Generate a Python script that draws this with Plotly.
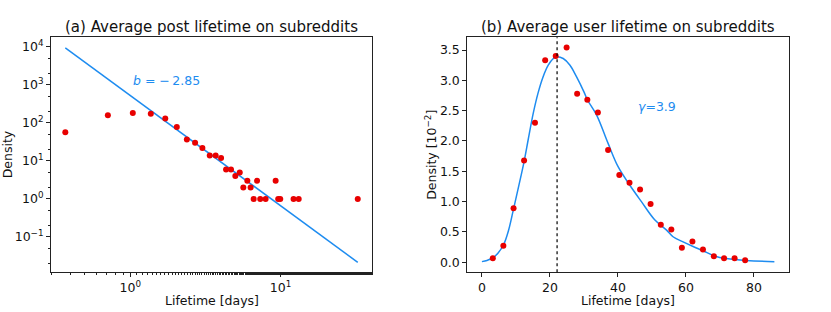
import plotly.graph_objects as go

# ---- Panel (a): average post lifetime (log-log) ----
post_lifetime = [0.37, 0.71, 1.04, 1.37, 1.71, 2.04, 2.38, 2.70, 3.02, 3.38, 3.70, 4.02,
                 4.34, 4.68, 5.00, 5.35, 5.65, 6.01, 6.32, 6.62, 6.97, 7.32, 7.95, 9.27,
                 9.64, 9.95, 12.2, 13.2, 32.6]
post_density = [57, 160, 183, 175, 132, 78, 37, 30, 22, 14, 14, 12,
                6, 6, 4, 5, 2, 3, 2, 1, 3, 1, 1, 3,
                1, 1, 1, 1, 1]
post_fit_x = [0.37, 32.6]
post_fit_y = [9500, 0.0215]

# ---- Panel (b): average user lifetime ----
user_lifetime = [3.2, 6.3, 9.3, 12.4, 15.6, 18.6, 21.7, 24.9, 28.0, 31.0, 34.1, 37.1,
                 40.4, 43.4, 46.5, 49.6, 52.6, 55.7, 58.8, 61.9, 65.0, 68.2, 71.2, 74.3, 77.4]
user_density = [0.066, 0.27, 0.89, 1.68, 2.30, 3.33, 3.40, 3.54, 2.78, 2.68, 2.47, 1.85,
                 1.44, 1.31, 1.20, 0.96, 0.62, 0.54, 0.24, 0.34, 0.21, 0.10, 0.066, 0.066, 0.033]
user_fit_x = [0, 1.5, 3.2, 4.7, 6.3, 7.8, 9.3, 10.8, 12.4, 13.6, 15.1, 16.5, 18.0, 19.5,
              21.0, 22.1, 23.9, 25.9, 27.8, 30.0, 31.0, 33.7, 37.1, 40.0, 43.5, 46.9,
              50.8, 54.3, 56.2, 59.0, 62.1, 65.0, 68.4, 71.9, 77.8, 86.0]
user_fit_y = [0.01, 0.03, 0.07, 0.15, 0.28, 0.52, 0.88, 1.25, 1.66, 2.02, 2.46, 2.79, 3.06, 3.25,
              3.36, 3.39, 3.36, 3.25, 3.06, 2.81, 2.68, 2.43, 1.96, 1.58, 1.27, 1.00,
              0.70, 0.53, 0.42, 0.34, 0.26, 0.19, 0.104, 0.06, 0.027, 0.01]
user_mode = 22.1

left_yticks = [0.1, 1, 10, 100, 1000, 10000]
left_yticktext = ["10<sup>−1</sup>", "10<sup>0</sup>", "10<sup>1</sup>", "10<sup>2</sup>",
                  "10<sup>3</sup>", "10<sup>4</sup>"]
left_xticks = [1, 10]
left_xticktext = ["10<sup>0</sup>", "10<sup>1</sup>"]
right_xticks = [0, 20, 40, 60, 80]
right_yticks = [0.0, 0.5, 1.0, 1.5, 2.0, 2.5, 3.0, 3.5]

BLUE = "#1E8CF0"
RED = "#E80000"
FONT = "DejaVu Sans"
W, H = 831, 312

fig = go.Figure()
fig.add_trace(go.Scatter(x=post_fit_x, y=post_fit_y, mode="lines",
                         line=dict(color=BLUE, width=1.5), xaxis="x", yaxis="y"))
fig.add_trace(go.Scatter(x=post_lifetime, y=post_density, mode="markers",
                         marker=dict(color=RED, size=6), xaxis="x", yaxis="y"))
fig.add_trace(go.Scatter(x=user_fit_x, y=user_fit_y, mode="lines", line_shape="spline",
                         line=dict(color=BLUE, width=1.5), xaxis="x2", yaxis="y2"))
fig.add_trace(go.Scatter(x=user_lifetime, y=user_density, mode="markers",
                         marker=dict(color=RED, size=6), xaxis="x2", yaxis="y2"))

# domains (from pixel positions of the frames)
dx1 = [51 / W, 372.3 / W]
dx2 = [467.3 / W, 789 / W]
dy = [1 - 272.3 / H, 1 - 37.3 / H]

axis_common = dict(showline=True, mirror=True, linecolor="#222", linewidth=1,
                   ticks="outside", ticklen=4, tickcolor="#222", showgrid=False,
                   zeroline=False, automargin=False,
                   tickfont=dict(family=FONT, size=12.5, color="#111"))

fig.update_layout(
    width=W, height=H, autosize=False,
    margin=dict(l=0, r=0, t=0, b=0, autoexpand=False),
    paper_bgcolor="white", plot_bgcolor="white",
    showlegend=False,
    font=dict(family=FONT, color="#111"),
    xaxis=dict(domain=dx1, type="log", range=[-0.527, 1.610], anchor="y",
               tickvals=left_xticks, ticktext=left_xticktext,
               minor=dict(ticks="outside", ticklen=2, tickcolor="#222", showgrid=False),
               **axis_common),
    yaxis=dict(domain=dy, type="log", range=[-1.93, 4.255], anchor="x",
               tickvals=left_yticks, ticktext=left_yticktext,
               minor=dict(ticks="outside", ticklen=2, tickcolor="#222", showgrid=False),
               **axis_common),
    xaxis2=dict(domain=dx2, range=[-4.3, 90.3], anchor="y2",
                tickvals=right_xticks, **axis_common),
    yaxis2=dict(domain=dy, range=[-0.166, 3.71], anchor="x2",
                tickvals=right_yticks, tickformat=".1f", **axis_common),
)

fig.add_shape(type="line", xref="x2", yref="paper", x0=user_mode, x1=user_mode,
              y0=dy[0], y1=dy[1], line=dict(color="black", width=1.2, dash="dot"))

ann = []
def A(**k):
    ann.append(k)

# titles
A(text="(a) Average post lifetime on subreddits", x=(dx1[0] + dx1[1]) / 2, y=1 - 27 / H,
  xref="paper", yref="paper", showarrow=False, xanchor="center", yanchor="middle",
  font=dict(family=FONT, size=15, color="#111"))
A(text="(b) Average user lifetime on subreddits", x=(dx2[0] + dx2[1]) / 2, y=1 - 27 / H,
  xref="paper", yref="paper", showarrow=False, xanchor="center", yanchor="middle",
  font=dict(family=FONT, size=15, color="#111"))
# axis titles
for d in (dx1, dx2):
    A(text="Lifetime [days]", x=(d[0] + d[1]) / 2, y=1 - 300 / H, xref="paper", yref="paper",
      showarrow=False, xanchor="center", yanchor="middle",
      font=dict(family=FONT, size=12.5, color="#111"))
A(text="Density", x=7.5 / W, y=(dy[0] + dy[1]) / 2, xref="paper", yref="paper", textangle=-90,
  showarrow=False, xanchor="center", yanchor="middle", font=dict(family=FONT, size=12.5, color="#111"))
A(text="Density [10<sup>−2</sup>]", x=431 / W, y=(dy[0] + dy[1]) / 2, xref="paper", yref="paper",
  textangle=-90, showarrow=False, xanchor="center", yanchor="middle",
  font=dict(family=FONT, size=12.5, color="#111"))
# in-plot annotations
A(text="<i>b</i> = −\u20092.85", x=0.008, y=3.13, xref="x", yref="y", showarrow=False,
  xanchor="left", yanchor="middle", font=dict(family=FONT, size=12.5, color=BLUE))
A(text="<i>γ</i>=3.9", x=45.2, y=2.565, xref="x2", yref="y2", showarrow=False,
  xanchor="left", yanchor="middle", font=dict(family=FONT, size=12.5, color=BLUE))

fig.update_layout(annotations=ann)
fig.write_html("out.html", config={"displayModeBar": False},
               post_script="document.body.style.margin='0';document.body.style.overflow='hidden';")
